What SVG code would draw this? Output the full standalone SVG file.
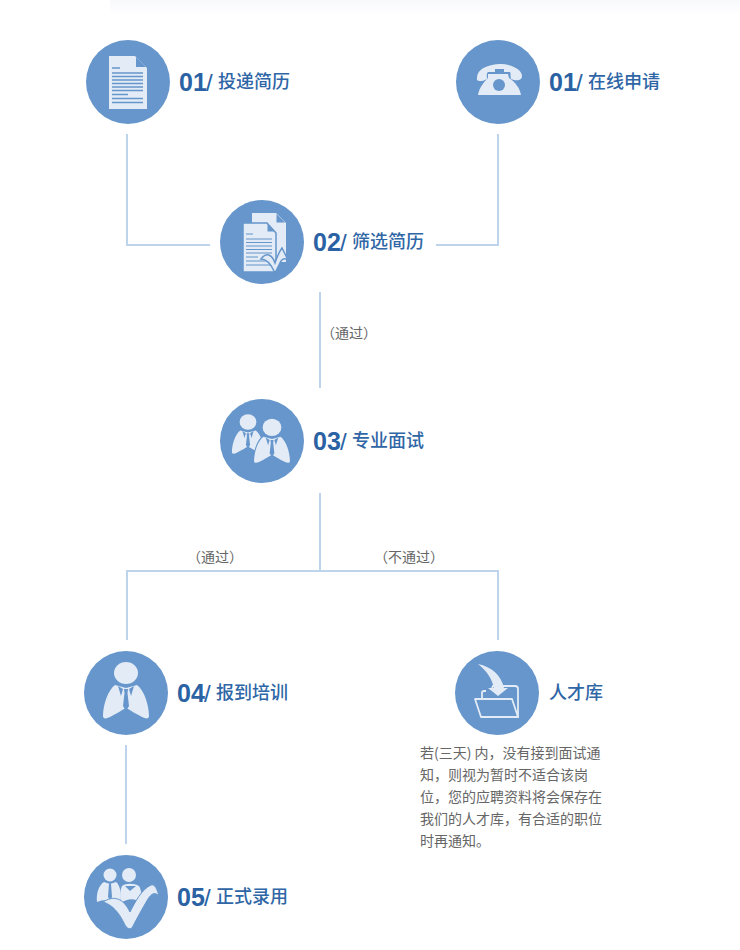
<svg xmlns="http://www.w3.org/2000/svg" width="740" height="950" viewBox="0 0 740 950">
<defs>
<linearGradient id="top" x1="0" y1="0" x2="0" y2="1"><stop offset="0" stop-color="#f8f9fc"/><stop offset="1" stop-color="#ffffff"/></linearGradient>
<g id="person">
<ellipse cx="0" cy="-20" rx="12" ry="11"/>
<path d="M-11,-8 C-18,-3 -23,12 -23,23 C-23,26 -20,26 -16,24 C-10,21 -4,17 0,15 C4,17 10,21 16,24 C20,26 23,26 23,23 C23,12 18,-3 11,-8 L0,-5Z"/>
<path class="cut" d="M-2,-4 H2 L1.500,0 L3,13 L0,18 L-3,13 L-1.500,0Z"/>
<path class="cut" d="M-8,-7 L-3,-4 L-5,3Z M8,-7 L3,-4 L5,3Z"/>
</g>
</defs>
<style>
.bg{fill:#fff}
.circle{fill:#6696cb}
.icon{fill:#e2ebf6}
.cut{fill:#6696cb}
.conn{fill:none;stroke:#bdd4ec;stroke-width:2}
.num{font:bold 25px "Liberation Sans","Noto Sans CJK SC",sans-serif;fill:#2a62a4}
.slash{font:24px "Liberation Sans",sans-serif;fill:#2a62a4}
.cn{font:500 18px "Noto Sans CJK SC",sans-serif;fill:#2f66a6}
.note{font:14px "Noto Sans CJK SC",sans-serif;fill:#666}
</style>
<rect class="bg" width="740" height="950"/>
<rect x="110" width="630" height="16" fill="url(#top)"/>
<g id="connectors">
<path class="conn" d="M127,134V245H210"/>
<path class="conn" d="M498,134V245H436"/>
<path class="conn" d="M320,292V388"/>
<path class="conn" d="M320,493V571"/>
<path class="conn" d="M127,640V571H498V640"/>
<path class="conn" d="M126,745V844"/>
</g>
<g id="node-01a">
<circle class="circle" cx="128" cy="82" r="42"/>
<path class="icon" d="M109,56H135L147,68V109H109Z"/>
<path class="cut" d="M136,57L146,67H136Z"/>
<path d="M112,68H120M112,73H143M112,76.500H143M112,80H143M112,83.500H143M112,87H143M112,90.500H143M112,94.500H128M112,98.500H143M112,102.500H143" stroke="#6696cb" stroke-width="1.300" fill="none"/>
<text class="num" x="179" y="91">01</text><text class="slash" x="206" y="91">/</text><text class="cn" x="218" y="88">投递简历</text>
</g>
<g id="node-01b">
<circle class="circle" cx="498" cy="82" r="42"/>
<path class="icon" d="M477,80C476,70 485,65 499,64C513,64 522,70 522,76C522,80 518,81 514,80L511,79C510,76 511,73 510,72L488,72C486,74 487,77 487,79C484,81 479,82 477,80Z"/>
<path class="icon" d="M488,74L508,74L509,78C515,82 520,88 521,95L478,95C479,88 484,82 488,78Z"/>
<rect class="cut" x="495" y="69" width="9" height="3"/>
<circle class="cut" cx="499" cy="85" r="6"/>
<text class="num" x="549" y="91">01</text><text class="slash" x="576" y="91">/</text><text class="cn" x="588" y="88">在线申请</text>
</g>
<g id="node-02">
<circle class="circle" cx="262" cy="242" r="42"/>
<path class="icon" d="M252,213H276L286,223V262H252Z"/>
<path class="cut" d="M276.500,214L285,222.500H276.500Z"/>
<path class="icon" d="M243,223H267L276,233V272H243Z" stroke="#6696cb" stroke-width="1.500"/>
<path class="cut" d="M267.500,224L275,231.500H267.500Z"/>
<path d="M246,234H253M246,239H272M246,242.500H272M246,246H272M246,249.500H272M246,253H272M246,257H258M246,261H272M246,265H272" stroke="#6696cb" stroke-width="1.200" fill="none"/>
<path class="icon" d="M261,259C266,252 272,254 275,263C277,257 279,252 282,248C284,252 286,256 288,260C285,258 283,258 281,261C279,265 277,269 275,273C272,266 268,259 261,259Z" stroke="#6696cb" stroke-width="1.500"/>
<text class="num" x="313" y="251">02</text><text class="slash" x="340" y="251">/</text><text class="cn" x="352" y="248">筛选简历</text>
</g>
<text class="note" x="321" y="338">（通过）</text>
<g id="node-03">
<circle class="circle" cx="262" cy="441" r="42"/>
<use href="#person" class="icon" transform="translate(248,436) scale(.7)"/>
<path d="M-11,-8 C-18,-3 -23,12 -23,23 C-23,26 -20,26 -16,24 C-10,21 -4,17 0,15 C4,17 10,21 16,24 C20,26 23,26 23,23 C23,12 18,-3 11,-8 L0,-5Z" transform="translate(272,443) scale(.78)" fill="#6696cb" stroke="#6696cb" stroke-width="3"/>
<use href="#person" class="icon" transform="translate(272,443) scale(.78)"/>
<text class="num" x="313" y="450">03</text><text class="slash" x="340" y="450">/</text><text class="cn" x="352" y="447">专业面试</text>
</g>
<text class="note" x="187" y="562">（通过）</text>
<text class="note" x="374" y="562">（不通过）</text>
<g id="node-04">
<circle class="circle" cx="126" cy="693" r="42"/>
<use href="#person" class="icon" transform="translate(126,693)"/>
<text class="num" x="177" y="702">04</text><text class="slash" x="204" y="702">/</text><text class="cn" x="216" y="699">报到培训</text>
</g>
<g id="node-talent">
<circle class="circle" cx="497" cy="693" r="42"/>
<path d="M482,698V693A2,2 0 0 1 484,691H491L493,686H515A3,3 0 0 1 518,689V717H481" fill="none" stroke="#e2ebf6" stroke-width="1.800"/>
<path d="M475,699H512L518,717H481Z" fill="none" stroke="#e2ebf6" stroke-width="1.800" stroke-linejoin="round"/>
<path class="cut" d="M486,690H510V694H486Z"/>
<path class="icon" d="M478,664C492,667 501,675 504,688H508L498,696L488,688H494C492,679 487,671 478,664Z"/>
<text class="cn" x="549" y="699">人才库</text>
</g>
<g id="note">
<text class="note" x="420" y="758">若(三天) 内，没有接到面试通</text>
<text class="note" x="420" y="780">知，则视为暂时不适合该岗</text>
<text class="note" x="420" y="802">位，您的应聘资料将会保存在</text>
<text class="note" x="420" y="824">我们的人才库，有合适的职位</text>
<text class="note" x="420" y="846">时再通知。</text>
</g>
<g id="node-05">
<circle class="circle" cx="126" cy="897" r="42"/>
<circle class="icon" cx="110" cy="875" r="6.500"/>
<path class="icon" d="M104,882L110,884L116,882C120,885 122,893 120,904C115,899 103,899 97,902C96,893 99,885 104,882Z"/>
<path class="cut" d="M109,884H111L112,897L110,900L108,897Z"/>
<circle class="icon" cx="129" cy="875" r="7"/>
<path class="icon" d="M122,886C126,883 134,883 139,886C142,890 141,898 142,903C135,898 128,898 121,903C120,897 120,890 122,886Z"/>
<path class="cut" d="M125,886L130,891L136,886Z"/>
<path class="icon" stroke="#6696cb" stroke-width="1" d="M103,902C114,895 123,898 130,912C135,902 142,889 151,885C155,884 157,889 159,896C155,892 152,893 148,899C142,909 135,922 132,928C128,930 126,927 124,923C119,913 113,905 103,902Z"/>
<text class="num" x="177" y="906">05</text><text class="slash" x="204" y="906">/</text><text class="cn" x="216" y="903">正式录用</text>
</g>
</svg>
